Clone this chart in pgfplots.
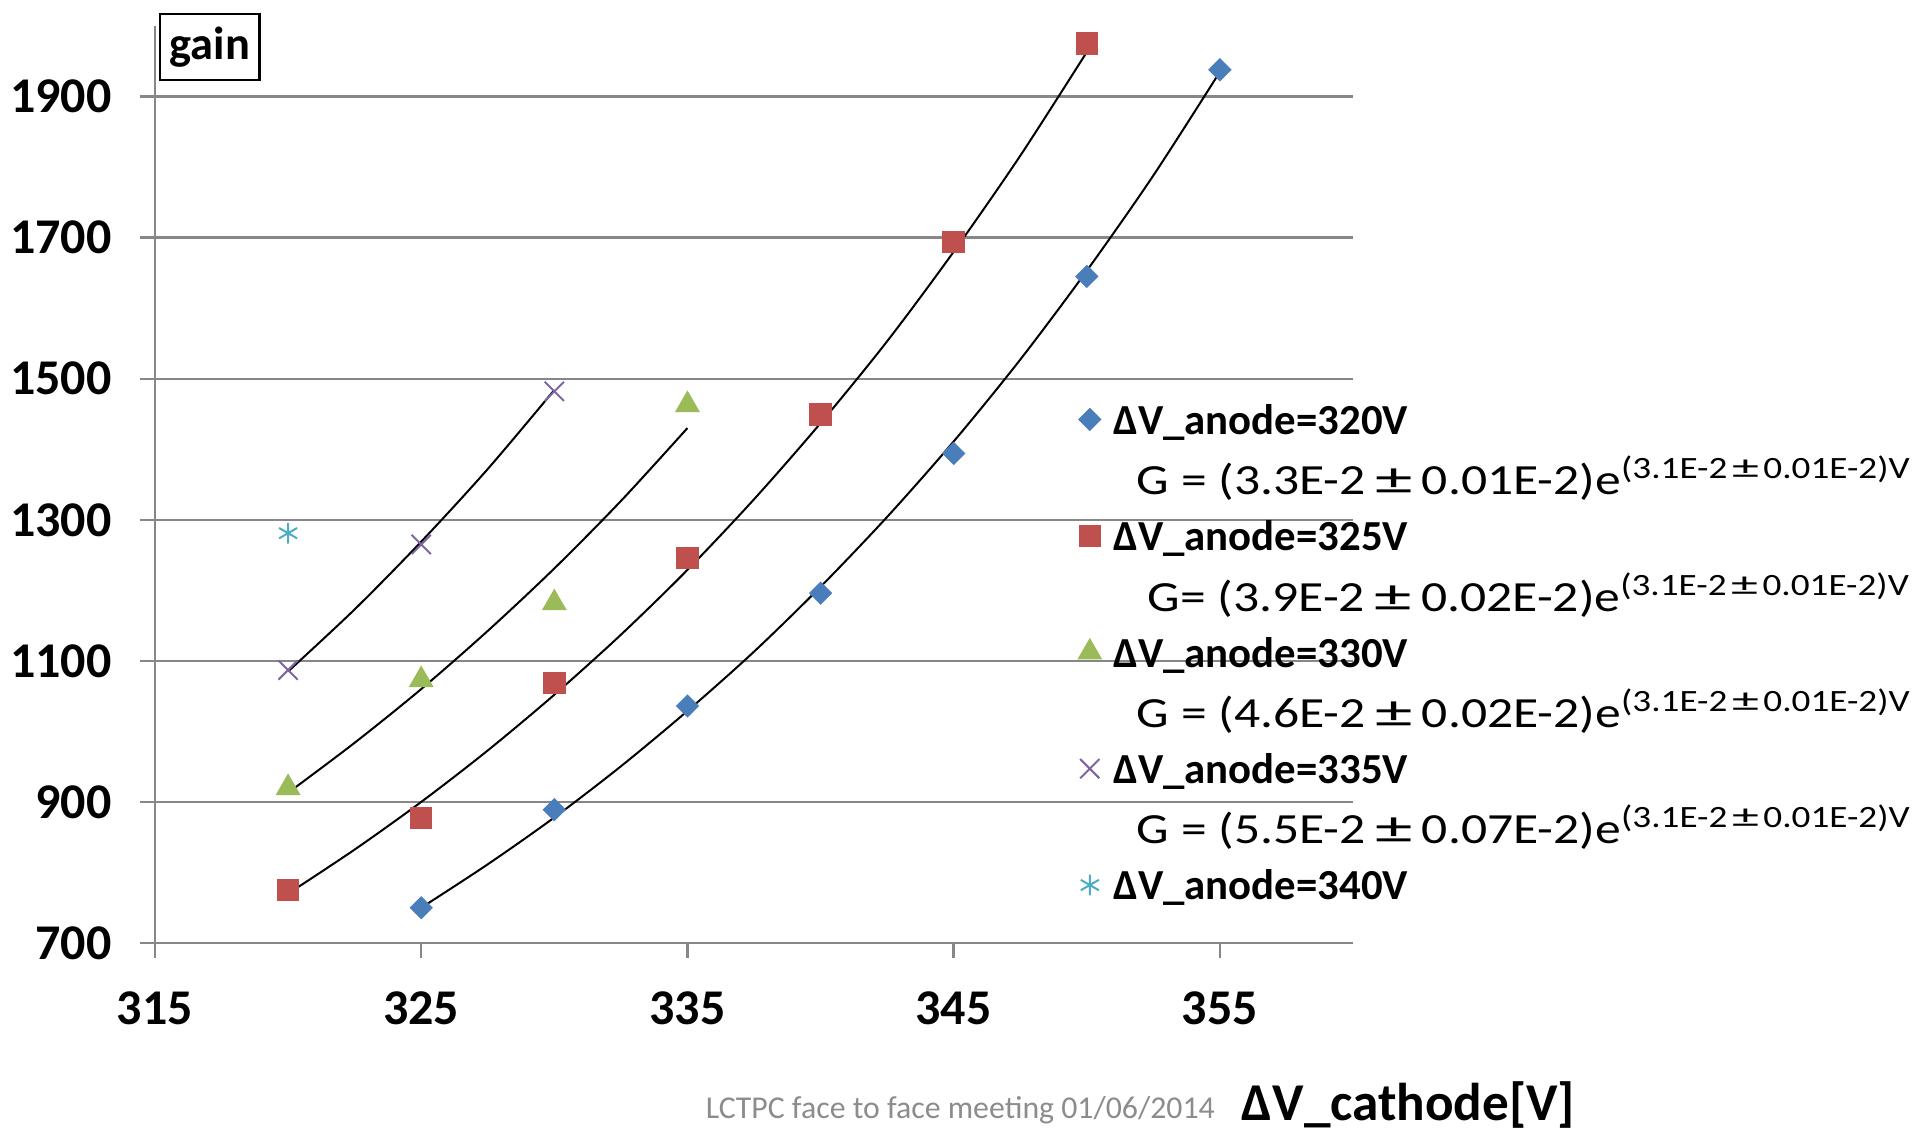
\documentclass[border=0pt]{standalone}
\usepackage{fontspec}
\setmainfont{Carlito}
\newfontfamily\eqfont{Carlito}[FakeStretch=1.2]
\usepackage{graphicx}
\usepackage{pgfplots}
\pgfplotsset{compat=1.18}
\definecolor{sblue}{HTML}{4A7EBB}
\definecolor{sred}{HTML}{C0504D}
\definecolor{sgreen}{HTML}{9BBB59}
\definecolor{spurple}{HTML}{8064A2}
\definecolor{scyan}{HTML}{4BACC6}
\definecolor{axgray}{HTML}{878787}
\definecolor{foot}{HTML}{8C8C8C}
\newcommand{\stA}{\rule[-3pt]{0pt}{15.5pt}}
\newcommand{\stB}{\rule[-3pt]{0pt}{16.6pt}}
\newcommand{\wpm}[1]{\makebox[#1]{\scalebox{1.45}[1.05]{±}}}
\newcommand{\eqline}[4]{{\eqfont\mdseries\fontsize{10.75}{12}\selectfont\stB\hspace*{#1}#2(#3\wpm{14pt}#4)e\raisebox{4pt}{\fontsize{7.75}{8}\selectfont(3.1E-2\wpm{9pt}0.01E-2)V}}}
\begin{document}
\begin{tikzpicture}
\begin{axis}[
  scale only axis, width=299.5pt, height=229.25pt,
  xmin=315, xmax=360, ymin=700, ymax=2000,
  xtick={315,325,...,355}, ytick={700,900,...,1900},
  axis x line*=bottom, axis y line*=left,
  axis line style={draw=axgray, line width=0.6pt},
  ymajorgrids, grid style={draw=axgray, line width=0.6pt},
  tick align=outside, major tick length=3.75pt,
  tick style={draw=axgray, line width=0.6pt},
  ticklabel style={font=\fontsize{12.5}{13}\selectfont\bfseries, inner sep=0pt},
  /pgf/number format/assume math mode=true, /pgf/number format/1000 sep={},
  yticklabel style={anchor=east, xshift=-6.9pt},
  xticklabel style={anchor=base, yshift=-16.5pt},
  clip=false,
  legend cell align=left,
  legend image code/.code={\draw[mark repeat=2,mark phase=2,#1] plot coordinates {(0pt,-1.8pt)(4pt,-1.8pt)(8pt,-1.8pt)};},
  legend style={at={(0.7663,0.6102)}, anchor=north west, draw=none, fill=none,
    inner sep=0pt, row sep=0pt, nodes={inner sep=0pt, outer sep=0pt},
    font=\fontsize{10.7}{11}\selectfont\bfseries,
    /tikz/every odd column/.append style={column sep=3.1pt}},
]
% fitted curves
\addplot[black, line width=0.5pt, smooth, forget plot] coordinates {
(325,750)(327.5,811.6)(330,878)(332.5,950.5)(335,1029)(337.5,1113)(340,1205)(342.5,1304)(345,1411)(347.5,1527)(350,1653)(352.5,1788)(355,1935)};
\addplot[black, line width=0.5pt, smooth, forget plot] coordinates {
(320,770)(322.5,832.5)(325,900)(327.5,973)(330,1052)(332.5,1137)(335,1229)(337.5,1329)(340,1437)(342.5,1553)(345,1680)(347.5,1816)(350,1963)};
\addplot[black, line width=0.5pt, smooth, forget plot] coordinates {
(320,913)(322.5,983.9)(325,1060)(327.5,1142.5)(330,1231)(332.5,1326.6)(335,1430)};
\addplot[black, line width=0.5pt, smooth, forget plot] coordinates {
(320,1085)(322.5,1173)(325,1269)(327.5,1372)(330,1484)};
% data
\addplot[only marks, mark=square*, mark size=1.86pt, mark options={rotate=45, fill=sblue, draw=sblue}] coordinates {
(325,750)(330,889)(335,1036)(340,1196)(345,1394)(350,1645)(355,1938)};
\addlegendentry{\stA ΔV\_anode=320V}
\addlegendimage{empty legend}
\addlegendentry{\eqline{5.9pt}{G = }{3.3E-2}{0.01E-2}}
\addplot[only marks, mark=square*, mark size=2.6pt, mark options={fill=sred, draw=sred}] coordinates {
(320,775)(325,877)(330,1069)(335,1246)(340,1449)(345,1694)(350,1975)};
\addlegendentry{\stA ΔV\_anode=325V}
\addlegendimage{empty legend}
\addlegendentry{\eqline{8.6pt}{G= }{3.9E-2}{0.02E-2}}
\addplot[only marks, mark=triangle*, mark size=3.2pt, mark options={fill=sgreen, draw=sgreen}] coordinates {
(320,920)(325,1073)(330,1182)(335,1463)};
\addlegendentry{\stA ΔV\_anode=330V}
\addlegendimage{empty legend}
\addlegendentry{\eqline{5.9pt}{G = }{4.6E-2}{0.02E-2}}
\addplot[only marks, mark=x, mark size=3.4pt, mark options={draw=spurple, line width=0.5pt}] coordinates {
(320,1087)(325,1265)(330,1482)};
\addlegendentry{\stA ΔV\_anode=335V}
\addlegendimage{empty legend}
\addlegendentry{\eqline{5.9pt}{G = }{5.5E-2}{0.07E-2}}
\addplot[only marks, mark=asterisk, mark size=2.6pt, mark options={draw=scyan, line width=0.5pt}] coordinates {
(320,1281)};
\addlegendentry{\stA ΔV\_anode=340V}
\end{axis}
\node[draw, line width=0.6pt, minimum width=24.8pt, minimum height=16.5pt, inner sep=0pt, anchor=north west,
  font=\fontsize{11.6}{12}\selectfont\bfseries] at (1pt,232.5pt) {gain};
\node[anchor=base west, inner sep=0pt, font=\fontsize{13.3}{14}\selectfont\bfseries] at (271.5pt,-44.25pt) {ΔV\_cathode[V]};
\node[anchor=base west, inner sep=0pt, text=foot, font=\fontsize{7.95}{9}\selectfont] at (137.5pt,-43.75pt) {LCTPC face to face meeting 01/06/2014};
\pgfresetboundingbox
\path (-38.75pt,-46.25pt) rectangle (440.5pt,235.75pt);
\end{tikzpicture}
\end{document}
